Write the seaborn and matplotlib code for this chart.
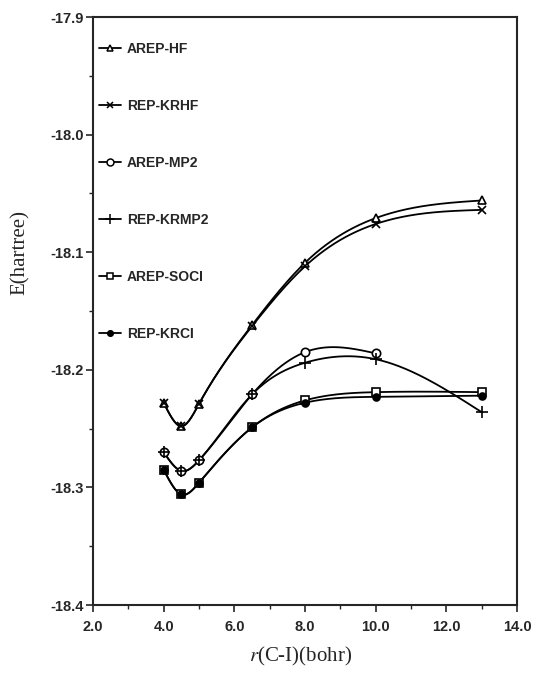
import numpy as np
import pandas as pd
import seaborn as sns
from matplotlib import pyplot as plt
from matplotlib.lines import Line2D
from matplotlib.ticker import MultipleLocator

# bond length r(C-I) in bohr
r_full = [4.0, 4.5, 5.0, 6.5, 8.0, 10.0, 13.0]
r_mp2 = [4.0, 4.5, 5.0, 6.5, 8.0, 10.0]

arep_hf = [-18.228, -18.248, -18.229, -18.162, -18.109, -18.071, -18.056]
rep_krhf = [-18.228, -18.248, -18.229, -18.163, -18.112, -18.076, -18.064]
arep_mp2 = [-18.270, -18.286, -18.277, -18.221, -18.185, -18.186]
rep_krmp2 = [-18.270, -18.286, -18.277, -18.221, -18.194, -18.191, -18.236]
arep_soci = [-18.285, -18.306, -18.296, -18.249, -18.226, -18.219, -18.219]
rep_krci = [-18.285, -18.306, -18.296, -18.249, -18.228, -18.223, -18.222]

names = ['AREP-HF', 'REP-KRHF', 'AREP-MP2', 'REP-KRMP2', 'AREP-SOCI', 'REP-KRCI']
xs = [r_full, r_full, r_mp2, r_full, r_full, r_full]
ys = [arep_hf, rep_krhf, arep_mp2, rep_krmp2, arep_soci, rep_krci]
markers = ['^', 'x', 'o', '+', 's', 'o']
filled = [False, True, False, True, False, True]
msizes = [6, 6, 6, 8, 6, 5]


def natural_spline(x, y, xn):
    # plain natural cubic spline, enough for the smooth curves of the figure
    x = np.asarray(x, float)
    y = np.asarray(y, float)
    n = len(x)
    h = np.diff(x)
    A = np.zeros((n, n))
    b = np.zeros(n)
    A[0, 0] = A[-1, -1] = 1
    for i in range(1, n - 1):
        A[i, i - 1] = h[i - 1]
        A[i, i] = 2 * (h[i - 1] + h[i])
        A[i, i + 1] = h[i]
        b[i] = 6 * ((y[i + 1] - y[i]) / h[i] - (y[i] - y[i - 1]) / h[i - 1])
    M = np.linalg.solve(A, b)
    k = np.clip(np.searchsorted(x, xn) - 1, 0, n - 2)
    t0 = x[k + 1] - xn
    t1 = xn - x[k]
    hk = h[k]
    return (M[k] * t0 ** 3 / (6 * hk) + M[k + 1] * t1 ** 3 / (6 * hk)
            + (y[k] / hk - M[k] * hk / 6) * t0 + (y[k + 1] / hk - M[k + 1] * hk / 6) * t1)


frames = []
for name, x, y in zip(names, xs, ys):
    xn = np.linspace(x[0], x[-1], 300)
    frames.append(pd.DataFrame({'r': xn, 'E': natural_spline(x, y, xn), 'method': name}))
curves = pd.concat(frames, ignore_index=True)

sns.set_style('ticks')
plt.rcParams['font.family'] = ['Liberation Sans', 'DejaVu Sans']
plt.rcParams['mathtext.fontset'] = 'stix'

fig = plt.figure(figsize=(5.35, 6.75), dpi=100)
ax = fig.add_axes([93 / 535, 1 - 605 / 675, 424 / 535, 588 / 675])

sns.lineplot(data=curves, x='r', y='E', hue='method', units='method', estimator=None,
             palette=['black'] * 6, linewidth=1.3, legend=False, sort=False, ax=ax)

handles = []
for name, x, y, m, f, s in zip(names, xs, ys, markers, filled, msizes):
    ax.plot(x, y, ls='none', marker=m, ms=s, mec='black', mew=1.2,
            mfc='black' if f else 'white', zorder=3)
    handles.append(Line2D([], [], color='black', lw=1.3, marker=m, ms=s - 1, mec='black',
                          mew=1.1, mfc='black' if f else 'white'))

ax.legend(handles, names, loc='upper left', bbox_to_anchor=(99 / 535, 1 - 42 / 675),
          bbox_transform=fig.transFigure, frameon=False, borderpad=0, borderaxespad=0,
          handlelength=1.6, handletextpad=0.4, labelspacing=3.1,
          prop={'size': 10, 'weight': 'bold'})

ax.set_xlim(2.0, 14.0)
ax.set_ylim(-18.4, -17.9)
ax.xaxis.set_major_locator(MultipleLocator(2.0))
ax.xaxis.set_minor_locator(MultipleLocator(1.0))
ax.yaxis.set_major_locator(MultipleLocator(0.1))
ax.yaxis.set_minor_locator(MultipleLocator(0.05))
ax.set_xticklabels([f'{v:.1f}' for v in ax.get_xticks()])
ax.set_yticklabels([f'{v:.1f}' for v in ax.get_yticks()])
ax.tick_params(which='major', direction='out', length=5, width=1.2, labelsize=10.5, pad=1.5)
ax.tick_params(axis='x', which='major', pad=6)
ax.tick_params(which='minor', direction='out', length=3, width=1)
for lab in ax.get_xticklabels() + ax.get_yticklabels():
    lab.set_fontweight('bold')
for sp in ax.spines.values():
    sp.set_linewidth(1.5)

ax.set_xlabel('$r$(C-I)(bohr)', family='Liberation Serif', fontsize=15)
ax.set_ylabel('E(hartree)', family='Liberation Serif', fontsize=15)
ax.xaxis.set_label_coords(0.49, -0.068)
ax.yaxis.set_label_coords(-0.148, 0.6)

fig.savefig('out.png', dpi=100)
